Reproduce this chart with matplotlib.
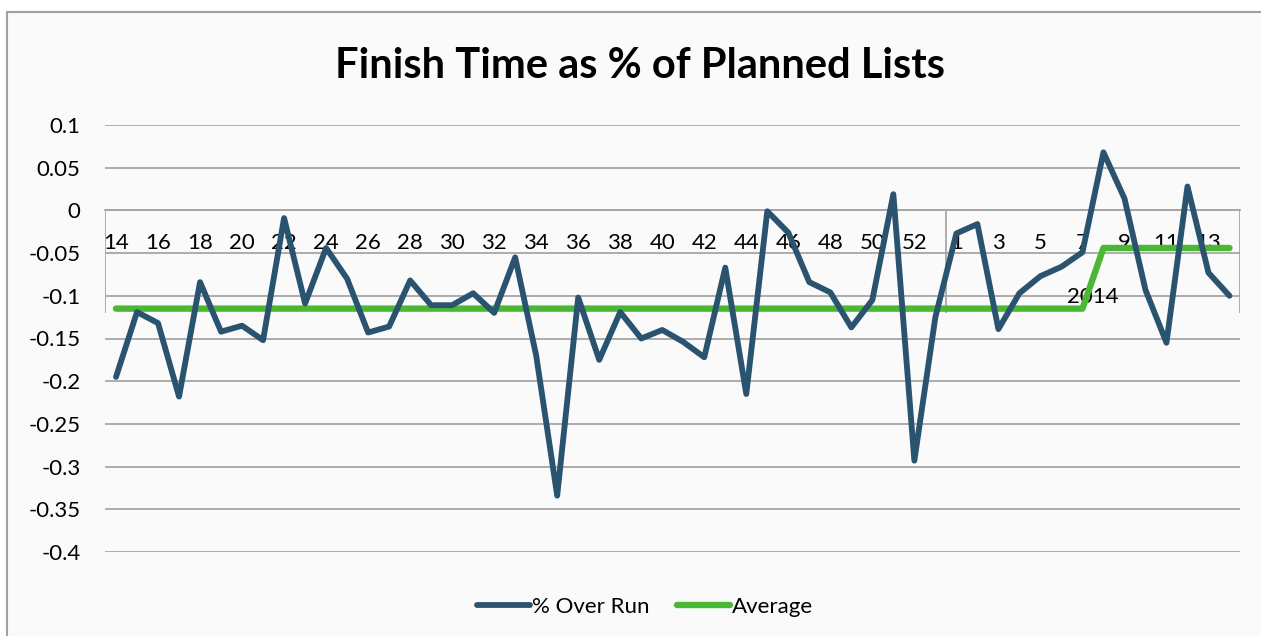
import numpy as np
import matplotlib.pyplot as plt
from matplotlib.patches import Rectangle

# weekly categories, two years on a two-level axis
weeks_2013 = [14, 15, 16, 17, 18, 19, 20, 21, 22, 23, 24, 25, 26, 27, 28, 29, 30,
              31, 32, 33, 34, 35, 36, 37, 38, 39, 40, 41, 42, 43, 44, 45, 46, 47,
              48, 49, 50, 51, 52, 53]
weeks_2014 = [1, 2, 3, 4, 5, 6, 7, 8, 9, 10, 11, 12, 13, 14]
year_labels = ["", "2014"]

over_run = [-0.195, -0.119, -0.132, -0.218, -0.084, -0.142, -0.135, -0.152,
            -0.009, -0.109, -0.044, -0.080, -0.143, -0.136, -0.082, -0.111,
            -0.111, -0.097, -0.120, -0.055, -0.170, -0.334, -0.102, -0.175,
            -0.119, -0.150, -0.140, -0.154, -0.172, -0.067, -0.215, -0.001,
            -0.026, -0.084, -0.096, -0.137, -0.105, 0.019, -0.293, -0.125,
            -0.027, -0.016, -0.139, -0.097, -0.077, -0.066, -0.049, 0.068,
            0.014, -0.093, -0.155, 0.028, -0.073, -0.100]

average = [-0.115, -0.115, -0.115, -0.115, -0.115, -0.115, -0.115, -0.115,
           -0.115, -0.115, -0.115, -0.115, -0.115, -0.115, -0.115, -0.115,
           -0.115, -0.115, -0.115, -0.115, -0.115, -0.115, -0.115, -0.115,
           -0.115, -0.115, -0.115, -0.115, -0.115, -0.115, -0.115, -0.115,
           -0.115, -0.115, -0.115, -0.115, -0.115, -0.115, -0.115, -0.115,
           -0.115, -0.115, -0.115, -0.115, -0.115, -0.115, -0.115, -0.044,
           -0.044, -0.044, -0.044, -0.044, -0.044, -0.044]

BLUE = "#2a5370"
GREEN = "#4ab833"
GRID = "#a6a6a6"
FONT = "Lato"

plt.rcParams["font.family"] = [FONT, "DejaVu Sans"]

W, H = 1261, 636
fig = plt.figure(figsize=(W / 100, H / 100), dpi=100)
fig.patch.set_facecolor("white")

# chart area frame (cut off at right and bottom)
fig.patches.append(Rectangle((7 / W, -0.1), 1.2, (H - 12) / H + 0.1,
                             transform=fig.transFigure, facecolor="#fafafa",
                             edgecolor="#a0a0a0", lw=1.5, zorder=-5))

ax = fig.add_axes([105.5 / W, 1 - 552 / H, (1240 - 105.5) / W, 427 / H])
ax.set_facecolor("none")

n = len(weeks_2013) + len(weeks_2014)
x = np.arange(n)

ax.plot(x, over_run, color=BLUE, lw=4.2, solid_capstyle="round",
        solid_joinstyle="round", label="% Over Run", zorder=3)
ax.plot(x, average, color=GREEN, lw=4.6, solid_capstyle="round",
        solid_joinstyle="round", label="Average", zorder=2)

ax.set_xlim(-0.5, n - 0.5)
ax.set_ylim(-0.4, 0.1)

yt = np.round(np.arange(-0.4, 0.1001, 0.05), 2)
ax.set_yticks(yt)
ax.set_yticklabels([f"{abs(v):g}" if v == 0 else f"{v:g}" for v in yt])
ax.yaxis.grid(True, color=GRID, lw=1.3)
ax.set_axisbelow(True)

# category labels: every other week, restarting in each year group
pos, labs = [], []
start = 0
for grp in (weeks_2013, weeks_2014):
    for k in range(0, len(grp), 2):
        pos.append(start + k)
        labs.append(str(grp[k]))
    start += len(grp)
ax.set_xticks(pos)
ax.set_xticklabels(labs)

for s in ("top", "right", "left"):
    ax.spines[s].set_visible(False)
ax.spines["bottom"].set_position(("data", 0))
ax.spines["bottom"].set_color(GRID)
ax.spines["bottom"].set_linewidth(1.3)
ax.tick_params(axis="x", length=0, pad=16, labelsize=16)
ax.tick_params(axis="y", length=0, pad=18, labelsize=16)

# year group dividers and labels
bounds = [-0.5, len(weeks_2013) - 0.5, n - 0.5]
ax.vlines(bounds, -0.1205, 0, color=GRID, lw=1.3, zorder=1)
for i, lab in enumerate(year_labels):
    ax.text((bounds[i] + bounds[i + 1]) / 2, -0.1015, lab, ha="center",
            va="center", fontsize=16, zorder=1)

fig.text(640 / W, 1 - 78 / H, "Finish Time as % of Planned Lists",
         ha="center", va="baseline", fontsize=30, fontweight="bold")

fig.legend(loc="center", bbox_to_anchor=(645 / W, 1 - 607 / H), ncol=2,
           frameon=False, fontsize=16, handlelength=2.4, handletextpad=0.1,
           columnspacing=1.2)

fig.savefig("out.png", dpi=100, facecolor=fig.get_facecolor())
